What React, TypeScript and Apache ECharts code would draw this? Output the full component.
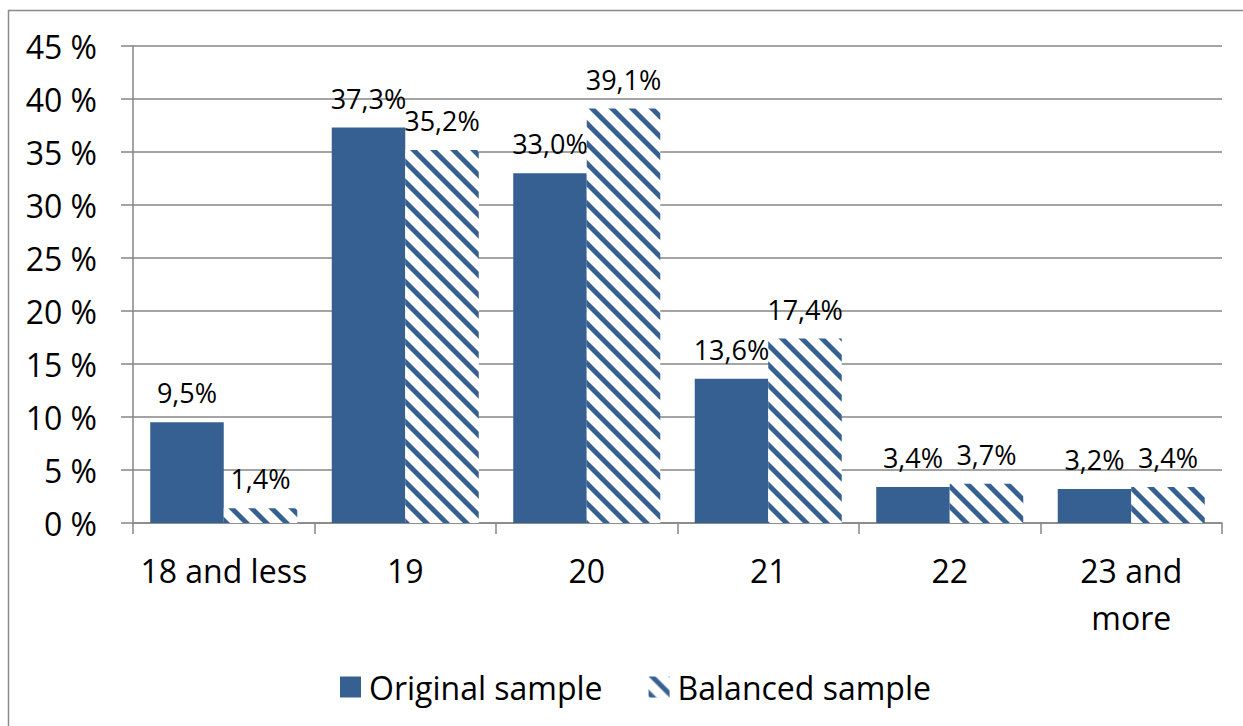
import React, { useEffect, useRef } from "react";
import * as echarts from "echarts";

const categories = ["18 and less", "19", "20", "21", "22", "23 and\nmore"];
const originalSample = [9.5, 37.3, 33.0, 13.6, 3.4, 3.2];
const balancedSample = [1.4, 35.2, 39.1, 17.4, 3.7, 3.4];
const seriesNames = ["Original sample", "Balanced sample"];

const BLUE = "#376092";
const GRID = "#868686";
const FONT = "Open Sans";

function makeStripePattern() {
  const size = 20;
  const c = document.createElement("canvas");
  c.width = size;
  c.height = size;
  const ctx = c.getContext("2d")!;
  ctx.fillStyle = "#ffffff";
  ctx.fillRect(0, 0, size, size);
  ctx.fillStyle = BLUE;
  const w = 7;
  for (let k = -2; k <= 1; k++) {
    const x0 = k * size;
    ctx.beginPath();
    ctx.moveTo(x0, 0);
    ctx.lineTo(x0 + w, 0);
    ctx.lineTo(x0 + w + size, size);
    ctx.lineTo(x0 + size, size);
    ctx.closePath();
    ctx.fill();
  }
  return { image: c, repeat: "repeat", imageWidth: size, imageHeight: size } as any;
}

const fmt = (v: number) => v.toFixed(1).replace(".", ",") + "%";

export default function App() {
  const ref = useRef<HTMLDivElement>(null);
  useEffect(() => {
    if (!ref.current) return;
    const chart = echarts.init(ref.current, undefined, { renderer: "svg" });
    const pattern = makeStripePattern();
    const labelCfg = {
      show: true,
      position: "top",
      distance: 16,
      color: "#000",
      fontFamily: FONT,
      fontSize: 27,
      formatter: (p: any) => fmt(p.value),
    };
    chart.setOption({
      animation: false,
      backgroundColor: "#fff",
      textStyle: { fontFamily: FONT },
      graphic: [
        {
          type: "rect",
          shape: { x: 8.5, y: 10.5, width: 1300, height: 800 },
          style: { fill: "none", stroke: "#8a8a8a", lineWidth: 1.5 },
          silent: true,
          z: -10,
        },
      ],
      grid: { left: 133, right: 21, top: 46, bottom: 203, containLabel: false },
      legend: {
        left: 335,
        top: 666,
        itemWidth: 21,
        itemHeight: 21,
        itemGap: 46,
        icon: "rect",
        textStyle: { fontFamily: FONT, fontSize: 32, color: "#000", padding: [0, 0, 0, 3] },
        data: seriesNames,
      },
      xAxis: {
        type: "category",
        data: categories,
        boundaryGap: true,
        axisLine: { show: true, lineStyle: { color: GRID, width: 1.5 } },
        axisTick: { show: true, length: 11, lineStyle: { color: GRID, width: 1.5 } },
        axisLabel: {
          color: "#000",
          fontFamily: FONT,
          fontSize: 32,
          lineHeight: 47,
          margin: 24,
          interval: 0,
        },
      },
      yAxis: {
        type: "value",
        min: 0,
        max: 45,
        interval: 5,
        axisLine: { show: true, lineStyle: { color: GRID, width: 1.5 } },
        axisTick: { show: true, length: 12, lineStyle: { color: GRID, width: 1.5 } },
        splitLine: { show: true, lineStyle: { color: GRID, width: 1.5 } },
        axisLabel: {
          color: "#000",
          fontFamily: FONT,
          fontSize: 32,
          margin: 36,
          formatter: "{value} %",
        },
      },
      series: [
        {
          name: seriesNames[0],
          type: "bar",
          data: originalSample,
          barGap: "0%",
          barCategoryGap: "19%",
          itemStyle: { color: BLUE },
          label: labelCfg,
        },
        {
          name: seriesNames[1],
          type: "bar",
          data: balancedSample,
          barGap: "0%",
          barCategoryGap: "19%",
          itemStyle: { color: pattern },
          label: labelCfg,
        },
      ],
    });
    return () => chart.dispose();
  }, []);
  return (
    <div
      ref={ref}
      style={{ position: "fixed", left: 0, top: 0, width: 1243, height: 726, background: "#fff" }}
    />
  );
}
